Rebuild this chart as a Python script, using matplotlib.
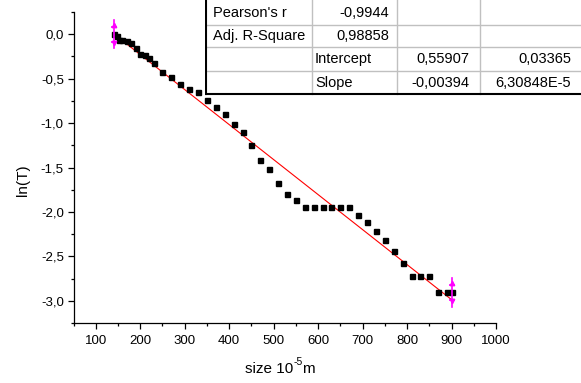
import matplotlib
matplotlib.use("Agg")
import matplotlib.pyplot as plt
from matplotlib.ticker import MultipleLocator, FuncFormatter
from matplotlib.patches import Rectangle

plt.rcParams['font.family'] = ['Liberation Sans', 'DejaVu Sans']
plt.rcParams['axes.unicode_minus'] = False

# ---- data ----
size = [140, 147, 153, 160, 170, 180, 190, 200, 210, 220, 230,
        250, 270, 290, 310, 330, 350, 370, 390, 410, 430, 450, 470, 490,
        510, 530, 550, 570, 590, 610, 630, 650, 670, 690, 710, 730, 750,
        770, 790, 810, 830, 850, 870, 890, 900]
lnT = [0.0, -0.02, -0.06, -0.07, -0.075, -0.10, -0.16, -0.22, -0.23, -0.27, -0.32,
       -0.42, -0.48, -0.555, -0.62, -0.655, -0.745, -0.82, -0.90, -1.01, -1.105,
       -1.25, -1.42, -1.52, -1.675, -1.80, -1.87, -1.945, -1.945, -1.945, -1.945,
       -1.945, -1.945, -2.03, -2.115, -2.21, -2.315, -2.435, -2.57, -2.72, -2.72,
       -2.72, -2.905, -2.905, -2.905]

intercept = 0.55907
slope = -0.00394

table_rows = [
    ["Pearson's r", "-0,9944", "", ""],
    ["Adj. R-Square", "0,98858", "", ""],
    ["", "Intercept", "0,55907", "0,03365"],
    ["", "Slope", "-0,00394", "6,30848E-5"],
]

W, H = 581, 383
fig = plt.figure(figsize=(W / 100, H / 100), dpi=100)

ax_l, ax_r, ax_t, ax_b = 73.5, 496, 12, 323
ax = fig.add_axes([ax_l / W, 1 - ax_b / H, (ax_r - ax_l) / W, (ax_b - ax_t) / H])

# fit line
xf = [min(size), max(size)]
yf = [intercept + slope * v for v in xf]
ax.plot(xf, yf, color='#ff0000', lw=0.8, zorder=2)

# data points
ax.plot(size, lnT, linestyle='none', marker='s', ms=3.6, color='black',
        mec='black', zorder=3)

# range markers (magenta) at first and last point
for xi, yi in [(size[0], lnT[0]), (size[-1], lnT[-1])]:
    ax.plot([xi, xi], [yi - 0.16, yi + 0.16], color='#ff00ff', lw=1.2, zorder=4)
    ax.plot([xi], [yi + 0.10], marker='^', ms=3.2, color='#ff00ff', zorder=4)
    ax.plot([xi], [yi - 0.10], marker='v', ms=3.2, color='#ff00ff', zorder=4)
    ax.plot([xi], [yi + 0.085], marker='_', ms=5, mew=1.2, color='#ff00ff', zorder=4)
    ax.plot([xi], [yi - 0.085], marker='_', ms=5, mew=1.2, color='#ff00ff', zorder=4)

ax.set_xlim(50, 1000)
ax.set_ylim(-3.25, 0.25)
ax.xaxis.set_major_locator(MultipleLocator(100))
ax.xaxis.set_minor_locator(MultipleLocator(50))
ax.yaxis.set_major_locator(MultipleLocator(0.5))
ax.yaxis.set_minor_locator(MultipleLocator(0.25))

def yfmt(v, pos):
    s = f"{v:.1f}"
    if s == "-0.0":
        s = "0.0"
    return s.replace('.', ',')

ax.yaxis.set_major_formatter(FuncFormatter(yfmt))
ax.xaxis.set_major_formatter(FuncFormatter(lambda v, p: f"{int(round(v))}"))

for s in ['top', 'right']:
    ax.spines[s].set_visible(False)
for s in ['left', 'bottom']:
    ax.spines[s].set_linewidth(0.9)

ax.tick_params(which='major', direction='out', length=4, width=0.9,
               labelsize=9.5, pad=3)
ax.tick_params(which='minor', direction='out', length=2.2, width=0.9)
ax.tick_params(axis='x', which='major', pad=5)

# x label: "size 10" + superscript "-5" + "m"
fig.text(293 / W, 1 - 369 / H, "size 10", ha='right', va='center', fontsize=11)
fig.text(293.5 / W, 1 - 362 / H, "-5", ha='left', va='center', fontsize=7.5)
fig.text(302.5 / W, 1 - 369 / H, "m", ha='left', va='center', fontsize=11)
fig.text(23 / W, 1 - 180 / H, "ln(T)", ha='center', va='center', rotation=90,
         fontsize=11)

# ---- table ----
t_l, t_b = 205, 96
tax = fig.add_axes([t_l / W, 1 - t_b / H, (W - t_l) / W, t_b / H], zorder=5)
tax.set_xlim(t_l, W)
tax.set_ylim(t_b, 0)
tax.axis('off')
tax.add_patch(Rectangle((206, 0), W - 206, 94.5, facecolor='white', edgecolor='none'))

grey = '#c0c0c0'
col_edges = [206, 311.7, 396.7, 480, W]
row_edges = [0, 25, 47.3, 71, 94.5]
for cx in col_edges[1:-1]:
    tax.plot([cx, cx], [0, 94.5], color=grey, lw=1.0)
for ry in row_edges[1:-1]:
    tax.plot([206, W], [ry, ry], color=grey, lw=1.0)
tax.plot([206, 206], [0, 94.5], color='black', lw=1.5)
tax.plot([206, W], [94.5, 94.5], color='black', lw=1.5)

row_centers = [13, 36, 59.5, 83]
for ri, row in enumerate(table_rows):
    yc = row_centers[ri]
    for ci, txt in enumerate(row):
        if not txt:
            continue
        if ci == 0:
            tax.text(213, yc, txt, ha='left', va='center', fontsize=10.5)
        elif ci == 1 and ri >= 2:
            tax.text(315, yc, txt, ha='left', va='center', fontsize=10.5)
        elif ci == 1:
            tax.text(389.5, yc, txt, ha='right', va='center', fontsize=10.5)
        elif ci == 2:
            tax.text(469.5, yc, txt, ha='right', va='center', fontsize=10.5)
        else:
            tax.text(571, yc, txt, ha='right', va='center', fontsize=10.5)

fig.savefig("out.png", dpi=100)
